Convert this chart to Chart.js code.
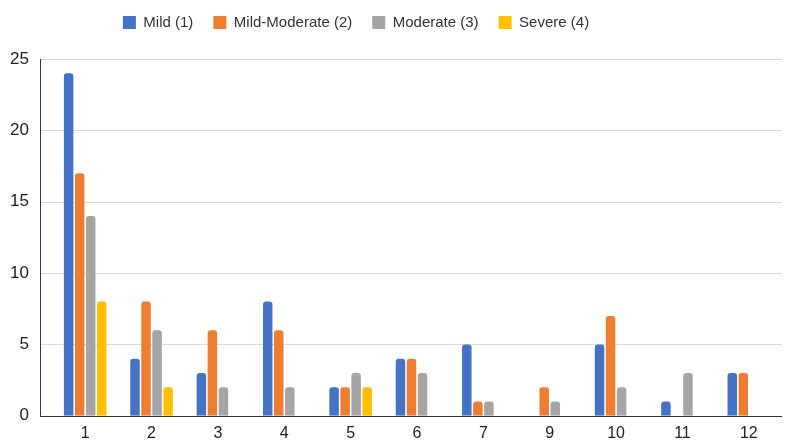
<!DOCTYPE html>
<html><head><meta charset="utf-8">
<script src="https://cdn.jsdelivr.net/npm/chart.js@4/dist/chart.umd.min.js"></script>
<style>html,body{margin:0;padding:0;background:#fff}#wrap{width:787px;height:441px}</style>
</head><body><div id="wrap"><canvas id="c"></canvas></div>
<script>
const categories = ['1','2','3','4','5','6','7','9','10','11','12'];
const mild = [24,4,3,8,2,4,5,0,5,1,3];
const mildModerate = [17,8,6,6,2,4,1,2,7,0,3];
const moderate = [14,6,2,2,3,3,1,1,2,3,0];
const severe = [8,2,0,0,2,0,0,0,0,0,0];
const yTicks = [0,5,10,15,20,25];

const FONT = "'Liberation Sans', Arial, sans-serif";
const EXT = 12;
const extendPlugin = {
  id: 'extendGrid',
  afterInit(chart) {
    const lg = chart.legend;
    if (lg && !lg._patched) {
      const orig = lg.fit.bind(lg);
      lg.fit = function(){ orig(); this.height += 19; };
      lg._patched = true;
    }
  },
  afterLayout(chart) {
    if (chart.legend) { chart.legend.right -= 70; }
  },
  beforeDatasetsDraw(chart) {
    const {ctx, chartArea, scales} = chart;
    const y = scales.y;
    ctx.save();
    ctx.lineWidth = 1;
    yTicks.forEach(v => {
      const py = Math.round(y.getPixelForValue(v)) + 0.5;
      ctx.strokeStyle = v === 0 ? '#333333' : '#d9d9d9';
      ctx.beginPath();
      ctx.moveTo(chartArea.left - EXT, py);
      ctx.lineTo(chartArea.right, py);
      ctx.stroke();
    });
    ctx.strokeStyle = '#333333';
    const px = chartArea.left - EXT + 0.5;
    ctx.beginPath();
    ctx.moveTo(px, y.getPixelForValue(25));
    ctx.lineTo(px, y.getPixelForValue(0));
    ctx.stroke();
    ctx.restore();
  }
};

const mk = (label, data, color) => ({label, data, backgroundColor: color, borderWidth: 0,
  borderRadius: {topLeft: 3, topRight: 3, bottomLeft: 0, bottomRight: 0}, borderSkipped: 'bottom',
  categoryPercentage: 0.665, barPercentage: 0.86});

new Chart(document.getElementById('c'), {
  type: 'bar',
  data: {labels: categories, datasets: [
    mk('Mild (1)', mild, '#4472C4'),
    mk('Mild-Moderate (2)', mildModerate, '#ED7D31'),
    mk('Moderate (3)', moderate, '#A5A5A5'),
    mk('Severe (4)', severe, '#FFC000')
  ]},
  options: {
    responsive: true, maintainAspectRatio: false, animation: false,
    layout: {padding: {left: 0, right: 5, top: -5, bottom: 0}},
    plugins: {
      legend: {position: 'top', labels: {boxWidth: 13, boxHeight: 13, padding: 20, color: '#333',
        font: {family: FONT, size: 15}}},
      tooltip: {enabled: false}
    },
    scales: {
      x: {grid: {display: false}, border: {display: false},
        ticks: {color: '#222', font: {family: FONT, size: 16}, padding: 0},
        afterFit(s){ s.height = 23; }},
      y: {min: 0, max: 25, afterBuildTicks(s){ s.ticks = yTicks.map(v => ({value: v})); },
        grid: {display: false}, border: {display: false},
        ticks: {color: '#222', font: {family: FONT, size: 17}, padding: 15},
        afterFit(s){ s.width = 52; }}
    }
  },
  plugins: [extendPlugin]
});
</script></body></html>
